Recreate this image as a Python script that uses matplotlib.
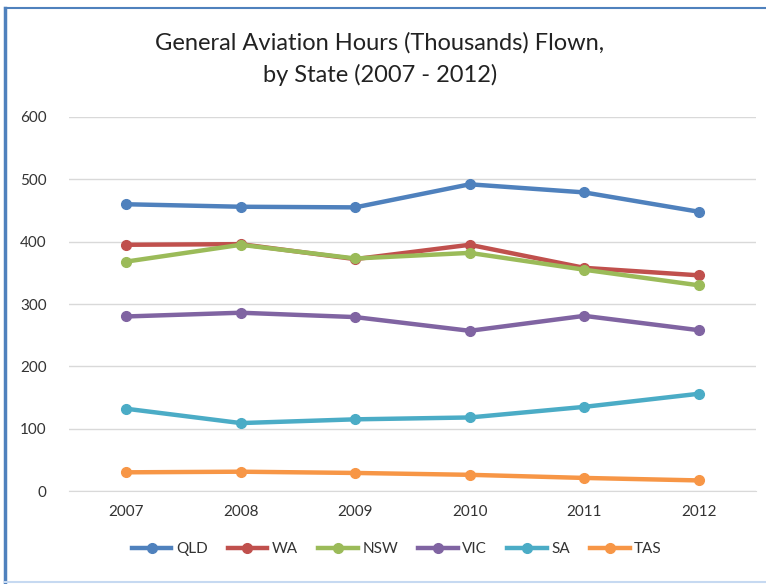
import matplotlib
matplotlib.use("Agg")
import matplotlib.pyplot as plt
from matplotlib.lines import Line2D

YEARS = ["2007", "2008", "2009", "2010", "2011", "2012"]
STATES = ["QLD", "WA", "NSW", "VIC", "SA", "TAS"]

QLD = [460, 456, 455, 492, 479, 448]
WA = [395, 396, 372, 395, 358, 346]
NSW = [368, 395, 373, 382, 355, 330]
VIC = [280, 286, 279, 257, 281, 258]
SA = [132, 109, 115, 118, 135, 156]
TAS = [30, 31, 29, 26, 21, 17]

COLORS = ["#4F81BD", "#C0504D", "#9BBB59", "#8064A2", "#4BACC6", "#F79646"]

plt.rcParams["font.family"] = ["Lato", "DejaVu Sans"]

fig = plt.figure(figsize=(7.66, 5.84), dpi=100)
ax = fig.add_axes([0.090, 0.1592, 0.897, 0.6405])

x = list(range(len(YEARS)))
for name, vals, col in zip(STATES, [QLD, WA, NSW, VIC, SA, TAS], COLORS):
    ax.plot(x, vals, color=col, linewidth=3.2, marker="o", markersize=7,
            label=name, solid_capstyle="round", zorder=3)

ax.set_xlim(-0.5, len(YEARS) - 0.5)
ax.set_ylim(0, 600)
ax.set_yticks(range(0, 601, 100))
ax.set_xticks(x)
ax.set_xticklabels(YEARS)
ax.grid(axis="y", color="#D9D9D9", linewidth=1)
ax.set_axisbelow(True)
for s in ["top", "right", "left"]:
    ax.spines[s].set_visible(False)
ax.spines["bottom"].set_color("#D9D9D9")
ax.tick_params(length=0, labelsize=11, colors="#333333", pad=10)
ax.tick_params(axis="y", pad=16)

fig.text(0.496, 0.926, "General Aviation Hours (Thousands) Flown,", ha="center",
         va="center", fontsize=17, color="#222222")
fig.text(0.496, 0.872, "by State (2007 - 2012)", ha="center", va="center",
         fontsize=17, color="#222222")

handles = [Line2D([], [], color=c, linewidth=3.2, marker="o", markersize=7)
           for c in COLORS]
fig.legend(handles, STATES, loc="center", bbox_to_anchor=(0.518, 0.06), ncol=6,
           frameon=False, fontsize=11, handlelength=2.6, handletextpad=0.3,
           columnspacing=1.3, labelcolor="#333333")

# chart area border
fig.add_artist(Line2D([0.007, 0.007], [0.003, 0.986], color="#4F81BD", linewidth=2.5))
fig.add_artist(Line2D([0.007, 1.0], [0.986, 0.986], color="#4F81BD", linewidth=1.5))
fig.add_artist(Line2D([0.007, 1.0], [0.004, 0.004], color="#C6D9F1", linewidth=1.5))

fig.savefig("out.png", dpi=100)
